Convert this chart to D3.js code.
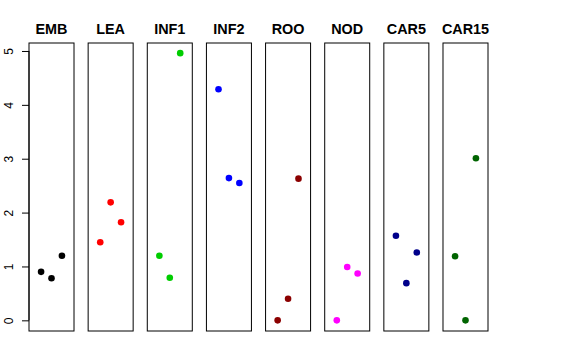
<!DOCTYPE html>
<html>
<head>
<meta charset="utf-8">
<script src="https://cdn.jsdelivr.net/npm/d3@7"></script>
<style>
  body { margin: 0; background: #fff; }
  svg { display: block; font-family: "Liberation Sans", Arial, Helvetica, sans-serif; }
</style>
</head>
<body>
<div id="chart"></div>
<script>
var width = 576;
var height = 360;

var tissues = ["EMB", "LEA", "INF1", "INF2", "ROO", "NOD", "CAR5", "CAR15"];
var tissueColors = ["#000000", "#ff0000", "#00cd00", "#0000ff", "#8b0000", "#ff00ff", "#00008b", "#006400"];
// three replicate values per tissue, plotted at x = 1, 2, 3
var emb = [0.90, 0.78, 1.20];
var lea = [1.45, 2.19, 1.82];
var inf1 = [1.20, 0.79, 4.96];
var inf2 = [4.29, 2.64, 2.55];
var roo = [0.00, 0.40, 2.63];
var nod = [0.00, 0.99, 0.87];
var car5 = [1.57, 0.69, 1.26];
var car15 = [1.19, 0.00, 3.01];
var yTicks = [0, 1, 2, 3, 4, 5];

var seriesValues = [emb, lea, inf1, inf2, roo, nod, car5, car15];

var svg = d3.select("#chart").append("svg")
    .attr("width", width)
    .attr("height", height);

var panelScale = d3.scaleBand()
    .domain(tissues)
    .range([29, 488])
    .paddingInner(0.239)
    .paddingOuter(0);

var yScale = d3.scaleLinear()
    .domain([-0.198, 5.148])
    .range([331, 43]);

var xInner = d3.scaleLinear()
    .domain([-0.16, 4.16])
    .range([0, panelScale.bandwidth()]);

// y axis on the first panel only
var yAxis = d3.axisLeft(yScale)
    .tickValues(yTicks)
    .tickFormat(d3.format("d"))
    .tickSize(7)
    .tickSizeOuter(0);

var axisG = svg.append("g")
    .attr("transform", "translate(" + panelScale(tissues[0]) + ",0)")
    .call(yAxis);
axisG.select(".domain").remove();
axisG.append("line")
    .attr("x1", 0).attr("x2", 0)
    .attr("y1", yScale(0)).attr("y2", yScale(5))
    .attr("stroke", "#000");
axisG.selectAll(".tick line").attr("stroke", "#000");
axisG.selectAll(".tick text")
    .attr("x", 0)
    .attr("dy", 0)
    .attr("transform", "translate(-16,0) rotate(-90)")
    .style("text-anchor", "middle")
    .style("font-size", "12px")
    .attr("fill", "#000");

var panels = svg.selectAll(".panel")
    .data(tissues)
    .enter().append("g")
    .attr("class", "panel")
    .attr("transform", function (d) {
        return "translate(" + panelScale(d) + ",0)";
    });

panels.append("rect")
    .attr("x", 0)
    .attr("y", yScale.range()[1])
    .attr("width", panelScale.bandwidth())
    .attr("height", yScale.range()[0] - yScale.range()[1])
    .attr("fill", "none")
    .attr("stroke", "#000")
    .attr("stroke-width", 1);

panels.append("text")
    .attr("x", panelScale.bandwidth() / 2)
    .attr("y", 34)
    .attr("text-anchor", "middle")
    .style("font-size", "14.4px")
    .style("font-weight", "bold")
    .text(function (d) { return d; });

panels.selectAll("circle")
    .data(function (d, i) {
        return seriesValues[i].map(function (v, j) {
            return {x: j + 1, y: v, color: tissueColors[i]};
        });
    })
    .enter().append("circle")
    .attr("cx", function (d) { return xInner(d.x); })
    .attr("cy", function (d) { return yScale(d.y); })
    .attr("r", 3.3)
    .attr("fill", function (d) { return d.color; });
</script>
</body>
</html>
